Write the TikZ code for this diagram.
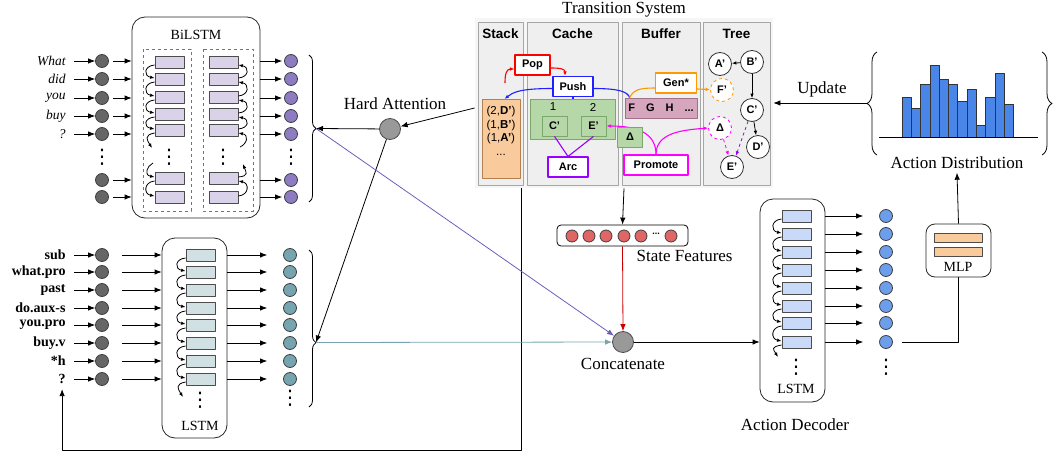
\documentclass[tikz,border=0pt]{standalone}
\usepackage{fontspec}
\setmainfont{Liberation Serif}
\newfontfamily\arial{Liberation Sans}
\newfontfamily\dejavu{DejaVu Sans}
\usetikzlibrary{arrows.meta,positioning,calc,decorations.pathreplacing}
\definecolor{dotgray}{HTML}{666666}
\definecolor{dotpurple}{HTML}{8E7CC3}
\definecolor{dotteal}{HTML}{76A5AF}
\definecolor{dotblue}{HTML}{6D9EEB}
\definecolor{dotred}{HTML}{E06666}
\definecolor{hubgray}{HTML}{999999}
\definecolor{cellpurple}{HTML}{D9D2E9}
\definecolor{cellteal}{HTML}{D0E0E3}
\definecolor{cellblue}{HTML}{C9DAF8}
\definecolor{peach}{HTML}{F9CB9C}
\definecolor{peachline}{HTML}{B4804F}
\definecolor{leaf}{HTML}{B6D7A8}
\definecolor{leafline}{HTML}{7BA86A}
\definecolor{mauve}{HTML}{D5A6BD}
\definecolor{mauveline}{HTML}{A0708A}
\definecolor{barblue}{HTML}{4A86E8}
\definecolor{popred}{HTML}{FF0000}
\definecolor{pushblue}{HTML}{2020FF}
\definecolor{genorange}{HTML}{FF9900}
\definecolor{promag}{HTML}{FF00FF}
\definecolor{arcviolet}{HTML}{9900FF}
\definecolor{attnline}{HTML}{6F5DBA}
\definecolor{tsback}{HTML}{F6F6F6}
\definecolor{tspanel}{HTML}{EFEFEF}
\tikzset{
  dot/.style={circle,draw=black!75,fill=#1,minimum size=13pt,inner sep=0pt},
  hub/.style={circle,draw=black!70,fill=hubgray,minimum size=21pt,inner sep=0pt},
  cell/.style={draw=black!70,fill=#1,minimum width=29pt,minimum height=12pt,inner sep=0pt},
  rnn/.style={draw=black!85,rounded corners=13pt},
  lbl/.style={font=\fontsize{17}{17}\selectfont},
  sml/.style={font=\fontsize{14}{14}\selectfont},
  word/.style={anchor=east,inner sep=2pt},
  vd/.style={inner sep=0pt,font=\dejavu\fontsize{20}{20}\selectfont},
  rec/.style={-{Latex[length=4.5pt,width=3.5pt]}},
  panel/.style={draw=black!35,fill=tspanel},
  act/.style={draw=#1,fill=white,line width=1.1pt,minimum height=20pt,inner sep=0pt,font=\arial\bfseries\fontsize{11}{11}\selectfont},
  slot/.style={draw=leafline,fill=leaf,minimum width=25pt,minimum height=20pt,inner sep=0pt,font=\arial\bfseries\fontsize{11}{11}\selectfont},
  tnode/.style={circle,draw=black!80,fill=white,minimum size=23pt,inner sep=0pt,font=\arial\bfseries\fontsize{11}{11}\selectfont},
  tsfont/.style={font=\arial\fontsize{11.5}{13.5}\selectfont},
  head/.style={font=\arial\bfseries\fontsize{13.5}{14}\selectfont},
  bar/.style={draw=black!80,fill=barblue},
  curly/.style={decorate,decoration={brace,amplitude=#1}},
}
\begin{document}
\begin{tikzpicture}[x=1pt,y=-1pt,>={Latex[length=7pt,width=5.5pt]},line join=round,line width=0.8pt,font=\fontsize{17}{17}\selectfont]
\useasboundingbox (0,0) rectangle (1053,455);

\node[rnn,minimum width=128pt,minimum height=201pt] (bil) at (196,117.5) {};
\node[sml] (bilt) at (196,35) {BiLSTM};
\draw[dashed,black!55] (143,49) rectangle (191,211) (203,49) rectangle (253,211);
\foreach \y [count=\i] in {62,79,97,114,130,178,197}{
  \node[cell=cellpurple] (lc\i) at (169.5,\y) {};
  \node[cell=cellpurple] (rc\i) at (223.5,\y) {};
}
\foreach \i [evaluate=\i as \j using int(\i+1)] in {1,2,3,4,6}{
  \draw[rec] ([yshift=-3pt]lc\i.west) ..controls +(-11,1) and +(-11,-2).. ([yshift=1pt]lc\j.west);
  \draw[rec] ([yshift=1pt]rc\j.east) ..controls +(11,-1) and +(11,2).. ([yshift=-3pt]rc\i.east);
}
\coordinate (fwout) at (152,148); \coordinate (fwin) at (153,163);
\coordinate (bwin) at (240,147); \coordinate (bwout) at (243,164);
\draw[rec] ([yshift=-3pt]lc5.west) ..controls +(-11,2) and +(-5,-8).. (fwout);
\draw[rec] (fwin) ..controls +(-6,3) and +(-11,-2).. ([yshift=1pt]lc6.west);
\draw[rec] (bwin) ..controls +(7,-3) and +(11,2).. ([yshift=-3pt]rc5.east);
\draw[rec] ([yshift=1pt]rc6.east) ..controls +(11,-1) and +(3,8).. (bwout);
\foreach \w/\y [count=\i] in {What/61,did/79,you/98,buy/116,?/134}
  \node[word,font=\itshape\fontsize{13.5}{14}\selectfont] (tw\i) at (68,\y) {\w};
\foreach \y [count=\i] in {61,79,98,116,134,180,197}{
  \node[dot=dotgray] (td\i) at (102,\y) {};
  \node[dot=dotpurple] (tp\i) at (291,\y) {};
  \draw[->,shorten <=4pt] (td\i) -- (td\i -| bil.west);
  \draw[->,shorten >=2pt] (tp\i -| bil.east) -- (tp\i);
}
\foreach \i in {1,...,5} \draw[->,shorten <=6pt] (tw\i) -- (td\i);
\foreach \x [count=\i] in {102,169,223,291} \node[vd] (tv\i) at (\x,157) {⋮};

\node[rnn,minimum width=65pt,minimum height=200pt] (lst) at (194.5,338) {};
\node[sml] (lstt) at (200,426) {LSTM};
\foreach \w/\y [count=\i] in {sub/255,what.pro/272,past/290,do.aux-s/308,you.pro/325,buy.v/343,*h/361,?/379}{
  \node[word,font=\bfseries\fontsize{14}{14}\selectfont] (lw\i) at (68,\y) {\w};
  \node[dot=dotgray] (ld\i) at (102,\y) {};
  \node[cell=cellteal] (lsc\i) at (200.5,\y) {};
  \node[dot=dotteal] (lt\i) at (290,\y) {};
  \draw[->,shorten <=6pt] (lw\i) -- (ld\i);
  \draw[->,shorten <=13pt] (ld\i) -- (ld\i -| lst.west);
  \draw[->,shorten >=16pt] (lt\i -| lst.east) -- (lt\i);
}
\foreach \i [evaluate=\i as \j using int(\i+1)] in {1,...,7}
  \draw[rec] ([yshift=-3pt]lsc\i.west) ..controls +(-11,1) and +(-11,-2).. ([yshift=1pt]lsc\j.west);
\coordinate (lsout) at (183,397);
\draw[rec] ([yshift=-3pt]lsc8.west) ..controls +(-11,2) and +(-5,-8).. (lsout);
\node[vd] (lsv) at (200,400) {⋮};
\node[vd] (ltv) at (290,398) {⋮};

\draw[curly=7pt] (309,55) -- (309,202);
\draw[curly={7pt,aspect=0.59}] (309,250) -- (309,407);
\coordinate (tipA) at (316,128.5);
\coordinate (tipB) at (316,342.5);

\node[hub] (ha) at (390,129) {};
\node[lbl] (hat) at (395,104) {Hard Attention};

\node[fill=tsback,minimum width=298pt,minimum height=170pt,inner sep=0pt] (ts) at (624,103) {};
\node[lbl] (tst) at (624,10) {Transition System};
\foreach \a/\b/\t [count=\i] in {478/523/Stack,527/618/Cache,622/700/Buffer,703/770/Tree}{
  \draw[panel] (\a,22) rectangle (\b,185);
  \node[head] (th\i) at ({(\a+\b)/2},34) {\t};
}
\node[draw=peachline,fill=peach,minimum width=38pt,minimum height=79pt,anchor=north west] (stk) at (482,99) {};
\node[tsfont,align=center] (stkt) at (501,131) {(2,\textbf{D’})\\(1,\textbf{B’})\\(1,\textbf{A’})\\...};
\node[draw=leafline,fill=leaf,minimum width=85pt,minimum height=40pt,anchor=north west] (cch) at (530,99) {};
\node[tsfont] (cn1) at (553,107) {1};
\node[tsfont] (cn2) at (593,107) {2};
\node[slot] (cC) at (554.5,126) {C’};
\node[slot] (cE) at (593.5,126) {E’};
\node[draw=mauveline,fill=mauve,minimum width=72pt,minimum height=20pt,inner sep=0pt,font=\arial\bfseries\fontsize{11}{11}\selectfont] (buf) at (661,108) {F\quad G\quad H\quad ...};
\node[act=popred,minimum width=35pt] (pop) at (532.5,65) {Pop};
\node[act=pushblue,minimum width=40pt] (psh) at (573,86.5) {Push};
\node[act=genorange,minimum width=41pt] (gen) at (676,83) {Gen*};
\node[act=arcviolet,minimum width=40pt] (arc) at (568,167) {Arc};
\node[act=promag,minimum width=64pt] (prm) at (656,165) {Promote};
\node[tnode] (tA) at (720,64) {A’};
\node[tnode] (tB) at (752,62) {B’};
\node[tnode,draw=genorange,dashed,thick] (tF) at (722,90) {F’};
\node[tnode] (tC) at (752,110) {C’};
\node[tnode,draw=promag,dashed,thick] (tDl) at (720,128) {Δ};
\node[tnode] (tD) at (758,147) {D’};
\node[tnode] (tE) at (732,167) {E’};
\draw[rec] (tB) -- (tA);
\draw[rec] (tB) -- (tC);
\draw[rec] (tC) -- (tD);
\draw[rec,arcviolet,dashed,thick] (tC) -- (tE);
\draw[rec,promag,dashed,thick] (tDl) -- (tE);
\coordinate (popsrc) at (505,83);
\coordinate (bufin) at ($(buf.north west)+(5,0)$);
\draw[rec,popred,line width=1.1pt] (popsrc) ..controls +(0,-9) and +(-8,0).. ([yshift=-4pt]pop.west);
\draw[rec,popred,line width=1.1pt] ([yshift=-3pt]pop.east) ..controls +(10,0) and +(0,-7).. ([xshift=-8pt]psh.north);
\draw[rec,pushblue,line width=1.1pt] ([yshift=-2pt]psh.west) ..controls +(-35,0) and +(8,-6).. ([xshift=3pt]stk.north);
\draw[pushblue,line width=1.1pt] ([yshift=-2pt]psh.east) ..controls +(25,0) and +(-2,-6).. (bufin);
\draw[pushblue,line width=1.1pt] (psh.south) -- (psh.south |- cch.north);
\draw[genorange,line width=1.1pt] (bufin) ..controls +(4,-8) and +(-15,0).. ([yshift=-5pt]gen.west);
\draw[rec,genorange,line width=1.1pt] ([yshift=-6pt]gen.east) -- (tF);
\draw[rec,promag,line width=1.1pt] (prm.north) ..controls +(0,-22) and +(30,0).. (cE.east);
\draw[rec,promag,line width=1.1pt] (prm.north) ..controls +(0,-22) and +(-25,2).. (tDl.west);
\node[slot] (dlt) at (630,137) {Δ};
\draw[arcviolet,line width=1.1pt] (cC.south) -- (arc.north) (cE.south) -- (arc.north);

\draw[->] ($(ts.west)+(0,5)$) -- (ha);
\draw[->] (ha) -- (tipA);
\draw[->] (ha) -- (tipB);

\coordinate (lp0) at (521,188);
\draw[->,shorten >=3pt] (lp0) -- (521,450) -| (lw8.south);

\node[draw,rounded corners=4pt,minimum width=131pt,minimum height=21pt] (sf) at (622.5,235.5) {};
\foreach \x [count=\i] in {572,589,606,624,641,671}
  \node[dot=dotred,minimum size=12pt] (sf\i) at (\x,236) {};
\node[font=\arial\bfseries\fontsize{9}{9}\selectfont] (sfd) at (656,234) {...};
\node[lbl,anchor=west] (sft) at (633,256) {State Features};
\draw[->] (ts.south) -- (sf.north);

\node[hub] (cat) at (623,342) {};
\node[lbl] (catt) at (623,364) {Concatenate};
\draw[->,draw=red!80!black] (sf.south) -- (cat.north);
\draw[->,draw=attnline] (tipA) -- (cat);
\draw[->,draw=dotteal] (tipB) -- (cat);

\node[rnn,minimum width=65pt,minimum height=203pt] (dec) at (792.5,300.5) {};
\node[sml] (dect) at (796,389) {LSTM};
\node[lbl] (decn) at (795,425) {Action Decoder};
\draw[->] (cat) -- (cat -| dec.west);
\foreach \y [count=\i] in {216,234,252,270,288,306,323,342}{
  \node[cell=cellblue] (dc\i) at (796.5,\y) {};
  \node[dot=dotblue] (ad\i) at (886,\y) {};
  \draw[->,shorten >=16pt] (dc\i -| dec.east) -- (ad\i);
}
\foreach \i [evaluate=\i as \j using int(\i+1)] in {1,...,7}
  \draw[rec] ([yshift=-3pt]dc\i.west) ..controls +(-11,1) and +(-11,-2).. ([yshift=1pt]dc\j.west);
\coordinate (dcout) at (778,357);
\draw[rec] ([yshift=-3pt]dc8.west) ..controls +(-11,2) and +(-5,-8).. (dcout);
\node[vd] (dcv) at (796,367) {⋮};
\node[vd] (adv) at (886,367) {⋮};

\node[rnn,rounded corners=9pt,minimum width=65pt,minimum height=53pt] (mlp) at (958.5,250.5) {};
\node[cell=peach,minimum width=48pt,minimum height=9pt] (mb1) at (958,237.5) {};
\node[cell=peach,minimum width=48pt,minimum height=9pt] (mb2) at (958,251.5) {};
\node[sml] (mlpt) at (958,267) {MLP};
\draw[shorten <=9pt] (ad8) -| (mlp.south);

\node[lbl] (adt) at (957,163) {Action Distribution};
\draw[->] (mlp.north) -- (adt.south);
\foreach \t [count=\i] in {97,108,84,65,79,84,101,89,125,97,73,104}
  \draw[bar] ({902+(\i-1)*9.3},137) rectangle ++(9.3,{\t-137});
\draw (879,137) -- (1038,137);
\draw[curly=10pt] (877,155) -- (877,52);
\draw[curly=10pt] (1042,52) -- (1042,155);
\coordinate (tipC) at (867,103);
\draw[->] (tipC) -- (tipC -| ts.east);
\node[lbl] (upd) at (822,89) {Update};
\end{tikzpicture}
\end{document}
